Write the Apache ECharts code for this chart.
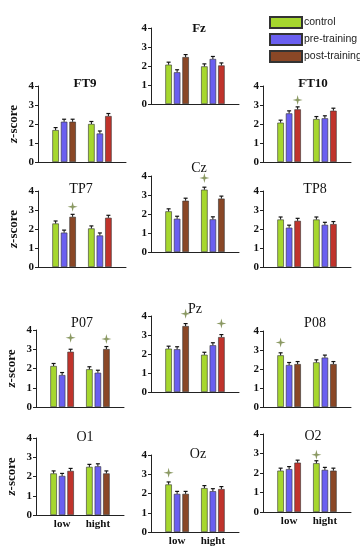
<!DOCTYPE html>
<html><head><meta charset="utf-8">
<script src="https://cdn.jsdelivr.net/npm/echarts@6/dist/echarts.min.js"></script>
<style>html,body{margin:0;padding:0;background:#fff}#c{width:360px;height:550px}</style>
</head><body><div id="c"></div>
<script>
// ---------- data ----------
const panels = ['FT9','Fz','FT10','TP7','Cz','TP8','P07','Pz','P08','O1','Oz','O2'];
const groups = ['low','hight'];
const seriesNames = ['control','pre-training','post-training'];
const yTicks = [0,1,2,3,4];
const control = [[1.68,2.00],[2.07,1.98],[2.07,2.26],[2.29,2.03],[2.14,3.28],[2.50,2.50],
                 [2.13,1.96],[2.28,1.96],[2.72,2.35],[2.16,2.50],[2.47,2.28],[2.12,2.50]];
const pre     = [[2.12,1.50],[1.67,2.37],[2.56,2.30],[1.81,1.66],[1.75,1.72],[2.07,2.22],
                 [1.66,1.78],[2.25,2.46],[2.21,2.60],[2.03,2.53],[1.98,2.12],[2.20,2.16]];
const post    = [[2.12,2.42],[2.47,2.03],[2.77,2.70],[2.64,2.59],[2.70,2.81],[2.43,2.26],
                 [2.87,3.01],[3.47,2.89],[2.26,2.26],[2.29,2.16],[1.98,2.23],[2.53,2.12]];
// significance markers: [panelIndex, groupIndex, seriesIndex, value]
const stars = [[2,0,2,3.26],[3,0,2,3.17],[4,1,0,3.90],[6,0,2,3.60],[6,1,2,3.53],
               [7,0,2,4.12],[7,1,2,3.60],[8,0,0,3.39],[10,0,0,3.08],[11,1,0,2.93]];

// ---------- layout / style ----------
const layout = [ // [axisX, top, bottom, titleX, titleY]
  [38,86,162,80,80],[151,28,104,194,25],[263,86,162,308,80],
  [38,191,267,76,185],[151,176,252,194,164],[263,191,267,310,185],
  [36,330,407,77,319],[151,316,392,190,305],[263,331,407,310,319],
  [36,438,515,80,433],[151,455,532,193,450],[263,434,512,308,432]
];
const boldTitle = [true,true,true,false,false,false,false,false,false,false,false,false];
const colors = ['#a6d72e','#6a5ff0','#8a4726'];
const redTint = '#c0332b';
const redPost = [[0,1],[1,1],[2,0],[2,1],[3,1],[5,0],[5,1],[6,0],[7,1],[9,0],[10,1],[11,0]];
const STEP = 8.5, SERIF = 'Liberation Serif';
const starPath = 'path://M0,-10 L2,-2 L10,0 L2,2 L0,10 L-2,2 L-10,0 L-2,-2 Z';

const dataSets = [control, pre, post];
const grid = [], xAxis = [], yAxis = [], series = [], title = [];
panels.forEach((name, p) => {
  const [ax, top, bottom, tx, ty] = layout[p];
  grid.push({left: ax, top: top, width: 88, height: bottom - top, containLabel: false});
  const bottomRow = p >= 9;
  xAxis.push({
    gridIndex: p, type: 'value', min: 0.27, max: 2.73,
    axisLine: {show: true, onZero: false, lineStyle: {color: '#222', width: 1}},
    axisTick: {show: false}, splitLine: {show: false},
    axisLabel: bottomRow ? {show: true, customValues: [1, 2], margin: 4,
      formatter: v => groups[Math.round(v) - 1], fontFamily: SERIF, fontWeight: 'bold',
      fontSize: 11, color: '#111'} : {show: false}
  });
  const leftCol = p % 3 === 0;
  yAxis.push({
    gridIndex: p, type: 'value', min: yTicks[0], max: yTicks[yTicks.length - 1], interval: 1,
    axisLine: {show: true, lineStyle: {color: '#222', width: 1}},
    axisTick: {show: true, length: 3, lineStyle: {color: '#222'}},
    splitLine: {show: false},
    axisLabel: {fontFamily: SERIF, fontWeight: 'bold', fontSize: 11, color: '#111', margin: 4},
    name: leftCol ? '{i|z}-score' : '', nameLocation: 'middle', nameGap: 18,
    nameTextStyle: {fontFamily: SERIF, fontWeight: 'bold', fontSize: 13, color: '#111',
      rich: {i: {fontFamily: SERIF, fontStyle: 'italic', fontWeight: 'bold', fontSize: 13, color: '#111'}}}
  });
  title.push({text: name, left: tx, top: ty - 8, textAlign: 'center',
    textStyle: {fontFamily: SERIF, fontSize: boldTitle[p] ? 13 : 14,
      fontWeight: boldTitle[p] ? 'bold' : 'normal', color: '#111'}});
  dataSets.forEach((ds, k) => {
    series.push({
      type: 'bar', name: seriesNames[k], xAxisIndex: p, yAxisIndex: p,
      barWidth: 6.5, barGap: '31%',
      itemStyle: {color: colors[k], borderColor: '#333', borderWidth: 0.6},
      data: ds[p].map((v, g) => {
        const isRed = k === 2 && redPost.some(r => r[0] === p && r[1] === g);
        return isRed ? {value: [g + 1, v], itemStyle: {color: redTint}} : [g + 1, v];
      })
    });
  });
  // error caps
  const errData = [];
  dataSets.forEach((ds, k) => ds[p].forEach((v, g) => errData.push([g + 1, v, k])));
  series.push({
    type: 'custom', xAxisIndex: p, yAxisIndex: p, silent: true, z: 5,
    data: errData,
    renderItem: (params, api) => {
      const c = api.coord([api.value(0), api.value(1)]);
      const x = c[0] + (api.value(2) - 1) * STEP, y = c[1];
      return {type: 'group', children: [
        {type: 'line', shape: {x1: x, y1: y, x2: x, y2: y - 2.5}, style: {stroke: '#111', lineWidth: 1}},
        {type: 'line', shape: {x1: x - 2, y1: y - 2.5, x2: x + 2, y2: y - 2.5}, style: {stroke: '#111', lineWidth: 1.2}}
      ]};
    }
  });
  // significance stars
  const sd = stars.filter(s => s[0] === p);
  if (sd.length) {
    series.push({
      type: 'scatter', xAxisIndex: p, yAxisIndex: p, clip: false, silent: true,
      symbol: starPath, symbolSize: 10,
      itemStyle: {color: '#6e7f3c'},
      data: sd.map(s => ({value: [s[1] + 1, s[3]], symbolOffset: [(s[2] - 1) * STEP, 0]}))
    });
  }
});

const chart = echarts.init(document.getElementById('c'), null, {renderer: 'canvas'});
chart.setOption({
  animation: false,
  backgroundColor: '#fff',
  title: title,
  legend: {
    data: seriesNames, orient: 'vertical', left: 264, top: 11,
    itemWidth: 32, itemHeight: 11, itemGap: 4, icon: 'rect',
    textStyle: {fontFamily: 'Liberation Sans', fontSize: 10.5, color: '#222', padding: [0,0,0,-3]},
    selectedMode: false
  },
  grid: grid, xAxis: xAxis, yAxis: yAxis, series: series
});
</script></body></html>
